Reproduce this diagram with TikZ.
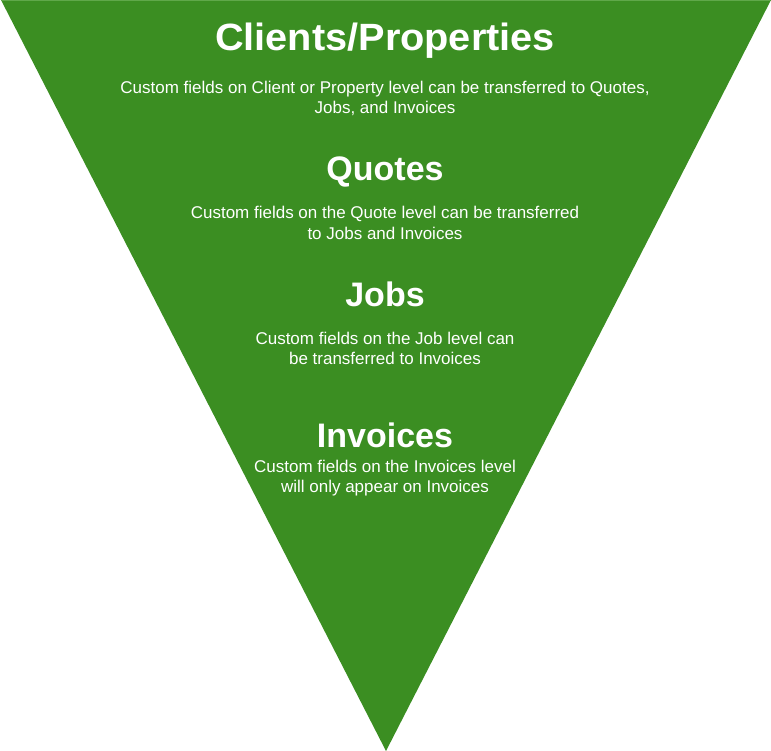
\documentclass[tikz,border=0pt]{standalone}
\usepackage{fontspec}
\setmainfont{Liberation Sans}
\definecolor{funnel}{RGB}{59,142,34}
\definecolor{funneltop}{RGB}{96,168,74}
\begin{document}
\begin{tikzpicture}[x=1bp,y=-1bp,
  title/.style={text=white,inner sep=0pt,anchor=base,font=\bfseries\fontsize{34bp}{40bp}\selectfont},
  body/.style={text=white,inner sep=0pt,anchor=base,font=\fontsize{17bp}{20bp}\selectfont}]
\useasboundingbox (0,0) rectangle (771,751);
\fill[funnel] (1,0) -- (771,0) -- (386,751) -- cycle;
\draw[funneltop,line width=1.2bp] (2,0.6) -- (770,0.6);
\node[title,font=\bfseries\fontsize{38bp}{44bp}\selectfont] (t1) at (385,51) {\scalebox{1.045}[1]{Clients/Properties}};
\node[body] (b1a) at (385,93.3) {Custom fields on Client or Property level can be transferred to Quotes,};
\node[body] (b1b) at (385,113.3) {Jobs, and Invoices};
\node[title] (t2) at (385,180.3) {Quotes};
\node[body] (b2a) at (385,218.3) {Custom fields on the Quote level can be transferred};
\node[body] (b2b) at (385,239) {to Jobs and Invoices};
\node[title] (t3) at (385,306.3) {Jobs};
\node[body] (b3a) at (385,344) {Custom fields on the Job level can};
\node[body] (b3b) at (385,364.5) {be transferred to Invoices};
\node[title] (t4) at (385,447) {Invoices};
\node[body] (b4a) at (385,472.7) {Custom fields on the Invoices level};
\node[body] (b4b) at (385,492.7) {will only appear on Invoices};
\end{tikzpicture}
\end{document}
